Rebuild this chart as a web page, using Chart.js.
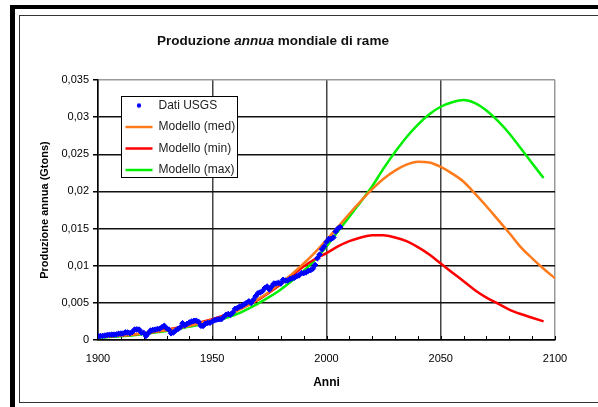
<!DOCTYPE html>
<html>
<head>
<meta charset="utf-8">
<script src="https://cdn.jsdelivr.net/npm/chart.js@4.4.0/dist/chart.umd.min.js"></script>
<style>
  html, body { margin: 0; padding: 0; background: #fff; }
</style>
</head>
<body>
<canvas id="grafico" width="598" height="407"></canvas>
<script>
// Dati USGS: produzione annua di rame (Gtons), un valore per anno dal 1900
const usgsStartYear = 1900;
const usgsValues = [
  0.00050, 0.00053, 0.00055, 0.00060, 0.00066, 0.00070, 0.00072, 0.00072, 0.00075, 0.00084,
  0.00086, 0.00088, 0.00102, 0.00100, 0.00092, 0.00107, 0.00140, 0.00143, 0.00140, 0.00100,
  0.00095, 0.00054, 0.00090, 0.00128, 0.00135, 0.00139, 0.00148, 0.00152, 0.00172, 0.00191,
  0.00158, 0.00140, 0.00090, 0.00102, 0.00127, 0.00148, 0.00170, 0.00226, 0.00198, 0.00218,
  0.00236, 0.00250, 0.00258, 0.00260, 0.00244, 0.00192, 0.00190, 0.00220, 0.00230, 0.00232,
  0.00250, 0.00265, 0.00275, 0.00280, 0.00280, 0.00310, 0.00340, 0.00350, 0.00340, 0.00370,
  0.00420, 0.00430, 0.00450, 0.00460, 0.00480, 0.00500, 0.00520, 0.00500, 0.00540, 0.00590,
  0.00630, 0.00640, 0.00660, 0.00700, 0.00720, 0.00680, 0.00720, 0.00760, 0.00760, 0.00770,
  0.00760, 0.00810, 0.00800, 0.00800, 0.00820, 0.00830, 0.00840, 0.00860, 0.00870, 0.00900,
  0.00900, 0.00910, 0.00930, 0.00940, 0.00960, 0.01010, 0.01100, 0.01150, 0.01220, 0.01260,
  0.01320, 0.01360, 0.01360, 0.01380, 0.01460, 0.01500, 0.01520
];

// Anni dei modelli (ogni 5 anni)
const modelYears = [
  1900, 1905, 1910, 1915, 1920, 1925, 1930, 1935, 1940, 1945,
  1950, 1955, 1960, 1965, 1970, 1975, 1980, 1985, 1990, 1995,
  2000, 2005, 2010, 2015, 2020, 2025, 2030, 2035, 2040, 2045,
  2050, 2055, 2060, 2065, 2070, 2075, 2080, 2085, 2090, 2095, 2100
];
const modelMed = [
  0.0004, 0.0005, 0.0006, 0.0007, 0.0009, 0.0011, 0.0013, 0.0016, 0.0019, 0.0023,
  0.0027, 0.0032, 0.0038, 0.0046, 0.0055, 0.0065, 0.0077, 0.0089, 0.0103, 0.0118,
  0.0135, 0.0152, 0.0170, 0.0187, 0.0203, 0.0217, 0.0228, 0.0236, 0.0240, 0.0239,
  0.0233, 0.0224, 0.0213, 0.0197, 0.0180, 0.0162, 0.0144, 0.0125, 0.0110, 0.0096, 0.0083
];
const modelMin = [
  0.0004, 0.0005, 0.0006, 0.0007, 0.0009, 0.0011, 0.0014, 0.0017, 0.0021, 0.0024,
  0.0028, 0.0033, 0.0039, 0.0046, 0.0054, 0.0064, 0.0075, 0.0087, 0.0099, 0.0109,
  0.0117, 0.0126, 0.0133, 0.0138, 0.0141, 0.0141, 0.0138, 0.0133, 0.0125, 0.0115,
  0.0103, 0.0091, 0.0079, 0.0067, 0.0057, 0.0049, 0.0041, 0.0035, 0.0030, 0.0025
];
const modelMax = [
  0.0003, 0.0004, 0.0005, 0.0006, 0.0008, 0.0010, 0.0012, 0.0015, 0.0018, 0.0021,
  0.0025, 0.0029, 0.0034, 0.0041, 0.0049, 0.0058, 0.0068, 0.0080, 0.0093, 0.0108,
  0.0126, 0.0146, 0.0166, 0.0186, 0.0207, 0.0231, 0.0253, 0.0273, 0.0290, 0.0304,
  0.0314, 0.0320, 0.0323, 0.0319, 0.0309, 0.0295, 0.0278, 0.0258, 0.0238, 0.0218
];

const FONT = '"Liberation Sans", Arial, sans-serif';

// coppie {x, y} per la scala lineare
function toPoints(years, values) {
  return values.map((v, i) => ({ x: years[i], y: v }));
}
const usgsPoints = usgsValues.map((v, i) => ({ x: usgsStartYear + i, y: v }));

function lineDataset(label, years, values, color) {
  return {
    label: label,
    data: toPoints(years, values),
    borderColor: color,
    backgroundColor: color,
    borderWidth: 2.5,
    pointRadius: 0,
    pointStyle: 'line',
    pointBorderWidth: 2.5,
    cubicInterpolationMode: 'monotone',
    fill: false
  };
}

// pallino blu per la voce "Dati USGS" della legenda
const dot = document.createElement('canvas');
dot.width = 6;
dot.height = 6;
const dctx = dot.getContext('2d');
dctx.fillStyle = '#0000ff';
dctx.beginPath();
dctx.arc(3, 3, 2.2, 0, Math.PI * 2);
dctx.fill();

// cornice, titolo e tacche minori
const decorPlugin = {
  id: 'decor',
  afterLayout(chart) {
    // sposta la legenda dentro l'area del grafico
    chart.legend.left = 116;
    chart.legend.top = 90;
  },
  beforeDraw(chart) {
    const ctx = chart.ctx;
    ctx.save();
    ctx.fillStyle = '#fff';
    ctx.fillRect(0, 0, chart.width, chart.height);
    ctx.fillStyle = '#000';
    ctx.fillRect(10, 5, chart.width - 10, 4);
    ctx.fillRect(10, 5, 5, chart.height - 5);
    ctx.strokeStyle = '#333';
    ctx.lineWidth = 1;
    ctx.strokeRect(19.5, 15.5, chart.width, 387);

    // titolo con "annua" in corsivo
    const parts = [
      ['Produzione ', 'bold 13.5px ' + FONT],
      ['annua', 'italic bold 13.5px ' + FONT],
      [' mondiale di rame', 'bold 13.5px ' + FONT]
    ];
    let total = 0;
    parts.forEach(p => { ctx.font = p[1]; total += ctx.measureText(p[0]).width; });
    let x = 273 - total / 2;
    ctx.fillStyle = '#111';
    ctx.textBaseline = 'alphabetic';
    parts.forEach(p => {
      ctx.font = p[1];
      ctx.fillText(p[0], x, 45);
      x += ctx.measureText(p[0]).width;
    });
    ctx.restore();
  },
  beforeDatasetsDraw(chart) {
    const ctx = chart.ctx;
    const xs = chart.scales.x;
    const bottom = chart.chartArea.bottom;
    ctx.save();
    ctx.strokeStyle = '#000';
    ctx.lineWidth = 1;
    xs.ticks.forEach(t => {
      const px = Math.round(xs.getPixelForValue(t.value)) + 0.5;
      ctx.beginPath();
      ctx.moveTo(px, bottom);
      ctx.lineTo(px, bottom - 4);
      ctx.stroke();
    });
    ctx.restore();
  },
  afterDatasetsDraw(chart) {
    // riquadro bianco della legenda sopra la griglia
    const ctx = chart.ctx;
    ctx.save();
    ctx.fillStyle = '#fff';
    ctx.fillRect(121, 96, 116, 81);
    ctx.strokeStyle = '#000';
    ctx.lineWidth = 1;
    ctx.strokeRect(121.5, 96.5, 116, 81);
    ctx.restore();
    chart.legend.draw();
  }
};

const ctx = document.getElementById('grafico').getContext('2d');
new Chart(ctx, {
  type: 'line',
  data: {
    datasets: [
      {
        label: 'Dati USGS',
        data: usgsPoints,
        showLine: false,
        pointStyle: 'rectRot',
        pointRadius: 2.8,
        pointBorderWidth: 1,
        borderColor: '#0000ff',
        backgroundColor: '#0000ff',
        pointBackgroundColor: '#0000ff',
        pointBorderColor: '#0000ff'
      },
      lineDataset('Modello (med)', modelYears, modelMed, '#ff7a1a'),
      lineDataset('Modello (min)', modelYears, modelMin, '#ff0000'),
      lineDataset('Modello (max)', modelYears, modelMax, '#00ee00')
    ]
  },
  options: {
    responsive: false,
    animation: false,
    events: [],
    layout: { padding: { left: 20, top: 80, right: 43, bottom: 0 } },
    plugins: {
      title: { display: false },
      tooltip: { enabled: false },
      legend: {
        position: 'chartArea',
        align: 'start',
        labels: {
          usePointStyle: true,
          pointStyleWidth: 27,
          boxHeight: 3,
          padding: 9.5,
          color: '#222',
          font: { family: FONT, size: 12 },
          generateLabels: chart => {
            const items = Chart.defaults.plugins.legend.labels.generateLabels(chart);
            items[0].pointStyle = dot;
            return items;
          }
        }
      }
    },
    scales: {
      x: {
        type: 'linear',
        min: 1900,
        max: 2100,
        afterFit: s => { s.height = 67; },
        ticks: {
          stepSize: 10,
          autoSkip: false,
          maxRotation: 0,
          padding: 12,
          color: '#000',
          font: { family: FONT, size: 11 },
          callback: v => (v % 50 === 0 ? String(v) : '')
        },
        grid: {
          drawTicks: false,
          lineWidth: 1.5,
          color: c => {
            if (c.tick.value % 50 !== 0) return 'rgba(0,0,0,0)';
            return c.tick.value === 2100 ? '#999' : '#444';
          }
        },
        border: { color: '#000', width: 1.5 },
        title: {
          display: true,
          text: 'Anni',
          color: '#000',
          font: { family: FONT, size: 12, weight: 'bold' },
          padding: { top: 0, bottom: 17 }
        }
      },
      y: {
        min: 0,
        max: 0.035,
        afterFit: s => { s.width = 78; },
        ticks: {
          stepSize: 0.005,
          padding: 4,
          color: '#000',
          font: { family: FONT, size: 11 },
          callback: v => String(Number(v.toFixed(3))).replace('.', ',')
        },
        grid: {
          tickLength: 5,
          tickColor: '#000',
          lineWidth: 1.5,
          color: c => (Math.abs(c.tick.value - 0.035) < 1e-9 ? '#999' : '#111')
        },
        border: { color: '#000', width: 1.5 },
        title: {
          display: true,
          text: 'Produzione annua (Gtons)',
          color: '#000',
          font: { family: FONT, size: 11, weight: 'bold' },
          padding: { top: 18, bottom: 0 }
        }
      }
    }
  },
  plugins: [decorPlugin]
});
</script>
</body>
</html>
